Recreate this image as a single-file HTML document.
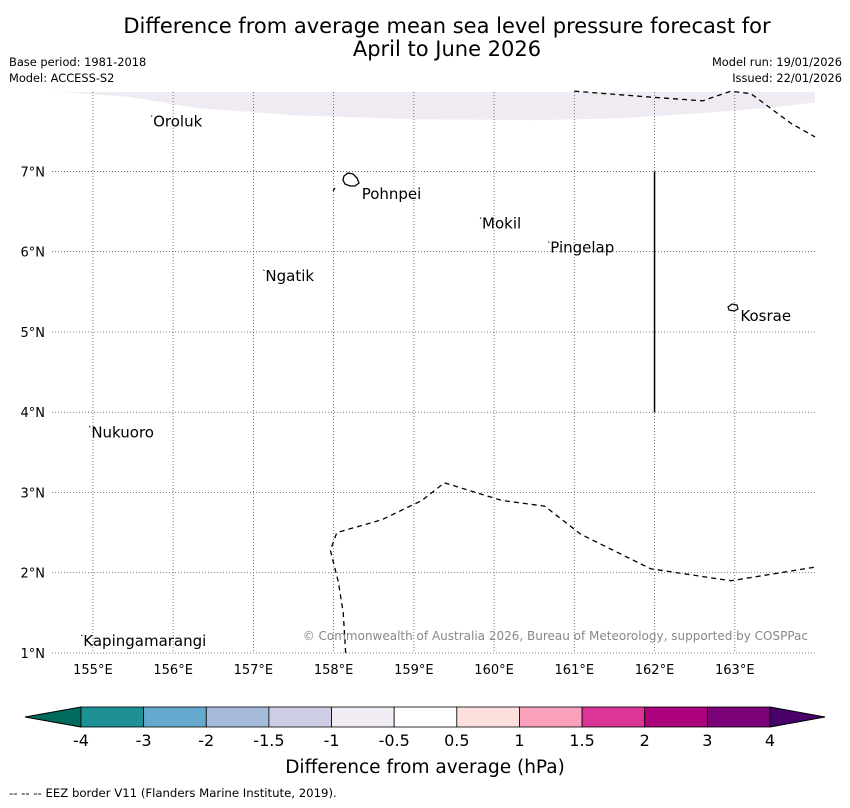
<!DOCTYPE html>
<html><head><meta charset="utf-8"><style>
body{margin:0;background:#fff;font-family:"DejaVu Sans","Liberation Sans",sans-serif;}
svg text{font-family:"DejaVu Sans","Liberation Sans",sans-serif;}
</style></head><body>
<svg id="c" width="850" height="804" viewBox="0 0 850 804" xmlns="http://www.w3.org/2000/svg">
<text x="447" y="33" font-size="21" text-anchor="middle">Difference from average mean sea level pressure forecast for</text>
<text x="447" y="56" font-size="21" text-anchor="middle">April to June 2026</text>
<text x="9" y="66" font-size="11.4">Base period: 1981-2018</text>
<text x="9" y="82" font-size="11.4">Model: ACCESS-S2</text>
<text x="842" y="66" font-size="11.4" text-anchor="end">Model run: 19/01/2026</text>
<text x="842" y="82" font-size="11.4" text-anchor="end">Issued: 22/01/2026</text>
<g id="map"></g>
<g id="cbar"></g>
<text x="425" y="773" font-size="18.5" text-anchor="middle">Difference from average (hPa)</text>
<text x="9" y="797" font-size="11.7">--  --  -- EEZ border V11 (Flanders Marine Institute, 2019).</text>
</svg>
<script>
const lonTicks=[155,156,157,158,159,160,161,162,163];
const latTicks=[1,2,3,4,5,6,7];
const islandNames=["Oroluk","Pohnpei","Mokil","Pingelap","Ngatik","Kosrae","Nukuoro","Kapingamarangi"];
const islandLon=[155.75,158.35,159.85,160.7,157.15,163.07,154.98,154.88];
const islandLat=[7.72,6.82,6.45,6.15,5.8,5.3,3.85,1.25];
const shadeLon=[154.49,155.45,156.3,157.5,159.0,160.5,161.5,162.5,163.5,164.0];
const shadeLat=[8.0,7.93,7.79,7.7,7.65,7.64,7.66,7.72,7.8,7.86];
const eezTopLon=[161.0,161.9,162.6,162.95,163.2,163.7,164.0];
const eezTopLat=[8.0,7.93,7.88,8.0,7.97,7.6,7.43];
const eezBotLon=[158.15,158.12,158.06,157.96,158.04,158.6,159.1,159.38,160.1,160.63,161.08,161.95,162.95,164.0];
const eezBotLat=[1.0,1.5,1.88,2.28,2.5,2.66,2.9,3.12,2.9,2.83,2.48,2.05,1.9,2.07];
const cbLabels=["-4","-3","-2","-1.5","-1","-0.5","0.5","1","1.5","2","3","4"];
const cbColors=["#1d9196","#65a9cf","#a6badb","#cdcde5","#f1ebf4","#ffffff","#fde0dd","#f9a1bb","#dd3497","#ae017e","#7a0177"];
const NS="http://www.w3.org/2000/svg";
const X0=52,X1=815,Y0=92,Y1=653,LON0=154.49,LON1=164.0,LAT0=1.0,LAT1=7.99;
const xs=l=>X0+(l-LON0)/(LON1-LON0)*(X1-X0);
const ys=l=>Y1-(l-LAT0)/(LAT1-LAT0)*(Y1-Y0);
function mk(t,a,p){const e=document.createElementNS(NS,t);for(const k in a)e.setAttribute(k,a[k]);p.appendChild(e);return e;}
const map=document.getElementById('map');
let d="M"+xs(shadeLon[0])+","+Y0;
shadeLon.forEach((l,i)=>d+=" L"+xs(l)+","+ys(shadeLat[i]));
d+=" L"+X1+","+Y0+"Z";
const sh=mk('path',{d:d,fill:"#f0ebf2"},map);


lonTicks.forEach(l=>{
 const g=mk('line',{x1:xs(l),x2:xs(l),y1:Y0,y2:Y1,stroke:"#555","stroke-width":0.8,"stroke-dasharray":"1,2"},map);
 
 
 const t=mk('text',{x:xs(l),y:674,"font-size":13,"text-anchor":"middle"},map);t.textContent=l+"°E";
 
 
});
latTicks.forEach(l=>{
 const g=mk('line',{x1:X0,x2:X1,y1:ys(l),y2:ys(l),stroke:"#555","stroke-width":0.8,"stroke-dasharray":"1,2"},map);
 
 
 const t=mk('text',{x:45,y:ys(l)+5,"font-size":13,"text-anchor":"end"},map);t.textContent=l+"°N";
 
 
});
function line(lons,lats,name){let p="";lons.forEach((l,i)=>p+=(i?" L":"M")+xs(l)+","+ys(lats[i]));
 const e=mk('path',{d:p,fill:"none",stroke:"#000","stroke-width":1.3,"stroke-dasharray":"5,4"},map);
 
 }
line(eezTopLon,eezTopLat,'eez-border-north');
line(eezBotLon,eezBotLat,'eez-border-south');
const sl=mk('line',{x1:xs(162),x2:xs(162),y1:ys(7),y2:ys(4),stroke:"#000","stroke-width":1.5},map);


const pi=mk('path',{d:"M344,176 l4,-3 l5,1 l4,4 l2,5 l-4,3 l-5,0 l-5,-2 l-2,-4z",fill:"none",stroke:"#000","stroke-width":1.3},map);


const pm=mk('line',{x1:333,y1:191,x2:335,y2:188,stroke:"#000","stroke-width":1.2},map);


const ko=mk('path',{d:"M728,307 l4,-3 l5,1 l1,4 l-4,2 l-5,-1z",fill:"none",stroke:"#000","stroke-width":1.2},map);


islandNames.forEach((n,i)=>{
 const x=xs(islandLon[i]),y=ys(islandLat[i]);
 if(n!=="Pohnpei"&&n!=="Kosrae"){
 const m=mk('line',{x1:x-2,y1:y+2,x2:x-1,y2:y+3,stroke:"#000","stroke-width":1},map);
 
 }
 const t=mk('text',{x:x,y:y+13,"font-size":15},map);t.textContent=n;
 
 
});
const cr=mk('text',{x:808,y:640,"font-size":12,fill:"#888","text-anchor":"end"},map);
cr.textContent="© Commonwealth of Australia 2026, Bureau of Meteorology, supported by COSPPac";


const cb=document.getElementById('cbar');
const CB0=81,CB1=770,CY=707,CH=20,n=cbColors.length,w=(CB1-CB0)/n;
const lt=mk('path',{d:`M${CB0},${CY} L25,${CY+CH/2} L${CB0},${CY+CH}Z`,fill:"#006b5c",stroke:"#000","stroke-width":1},cb);


const rt=mk('path',{d:`M${CB1},${CY} L825,${CY+CH/2} L${CB1},${CY+CH}Z`,fill:"#49006a",stroke:"#000","stroke-width":1},cb);


cbColors.forEach((c,i)=>{
 const r=mk('rect',{x:CB0+i*w,y:CY,width:w,height:CH,fill:c,stroke:"#000","stroke-width":0.8},cb);
 
 
});
cbLabels.forEach((l,i)=>{
 const t=mk('text',{x:CB0+i*w,y:746,"font-size":16,"text-anchor":"middle"},cb);t.textContent=l;
 
 
});
</script>
</body></html>
